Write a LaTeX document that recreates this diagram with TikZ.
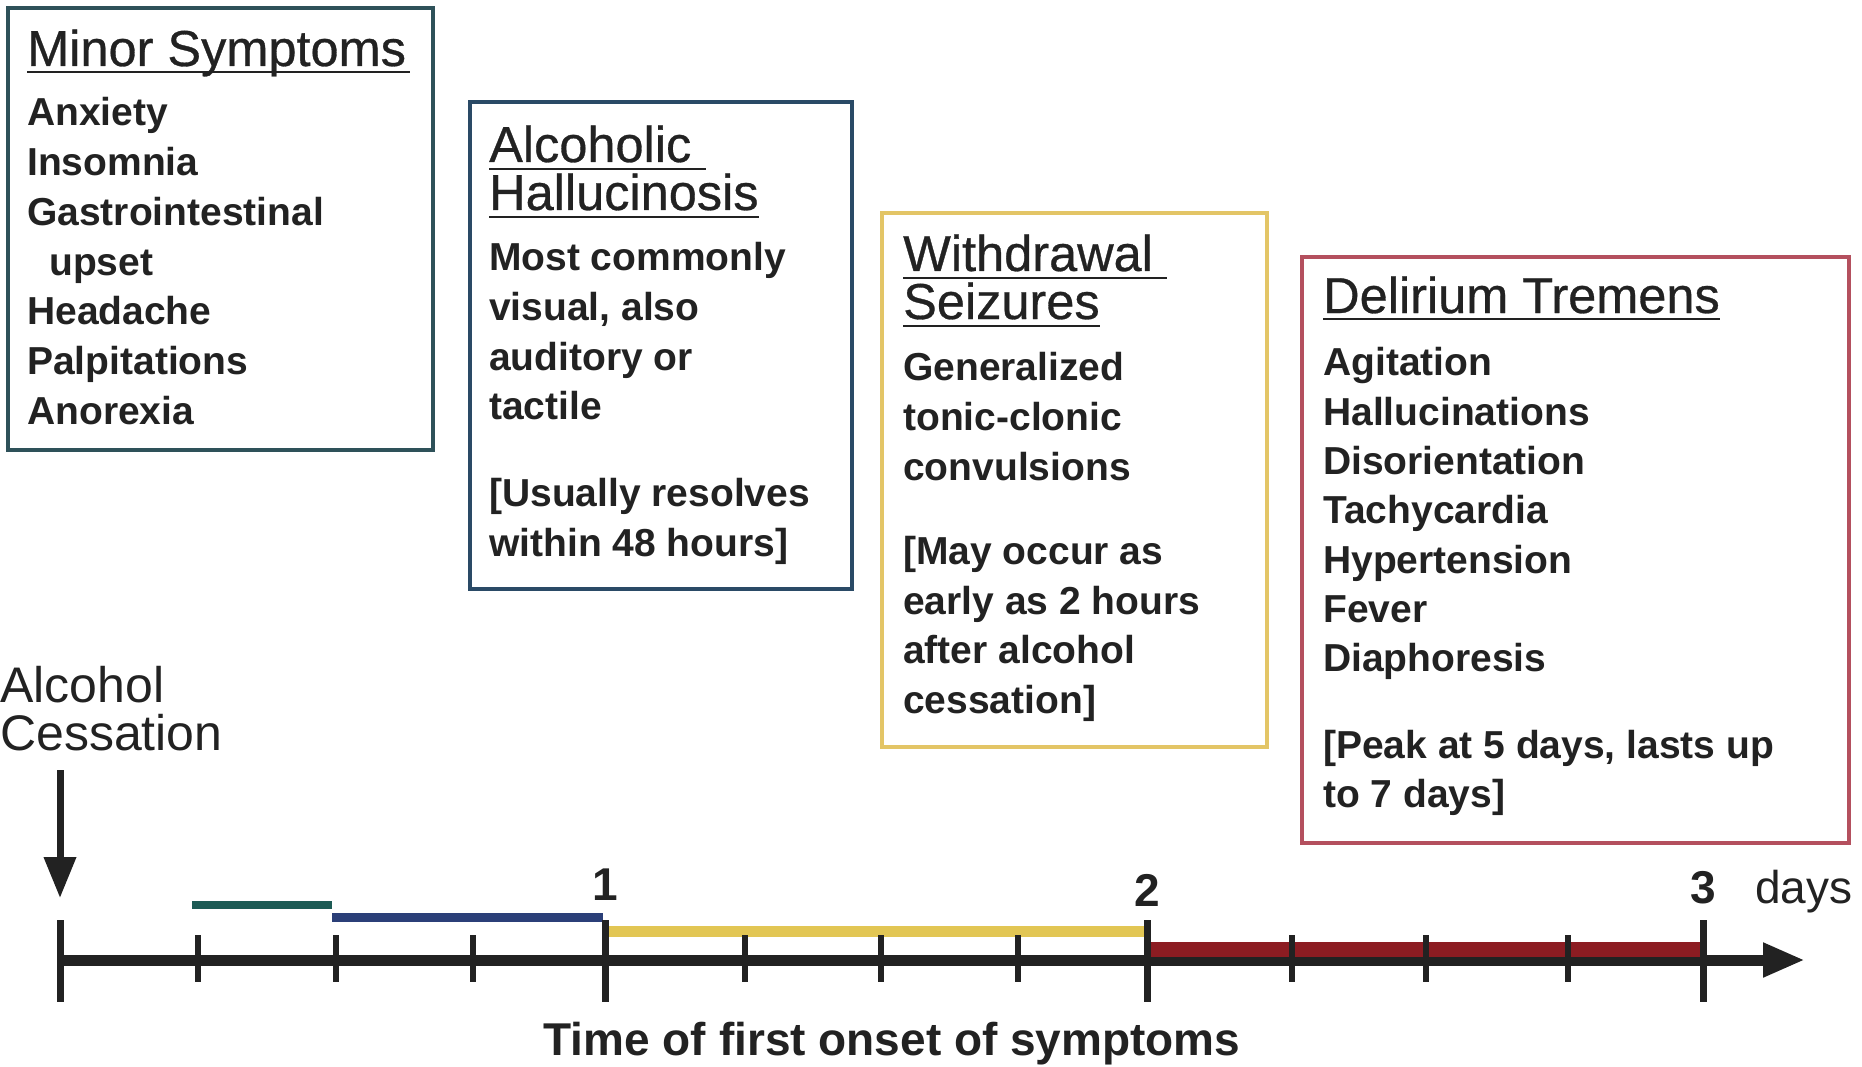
\documentclass[tikz,border=0pt]{standalone}
\usepackage{fontspec}
\setmainfont{Liberation Sans}
\newfontfamily\medfont[FakeBold=0.6]{Liberation Sans}
\usetikzlibrary{arrows.meta}
\definecolor{ink}{HTML}{222222}
\definecolor{bxA}{HTML}{2E5159}
\definecolor{bxB}{HTML}{2A4A66}
\definecolor{bxC}{HTML}{E3C566}
\definecolor{bxD}{HTML}{B4505E}
\definecolor{barA}{HTML}{1D5B55}
\definecolor{barB}{HTML}{2B3F78}
\definecolor{barC}{HTML}{E2C654}
\definecolor{barD}{HTML}{8C1C22}
\tikzset{
  frame/.style={draw, line width=4pt, inner sep=0pt, anchor=north west},
  ttl/.style={anchor=base west, inner sep=0pt, text=ink, font=\medfont\fontsize{50.5}{50}\selectfont},
  bod/.style={anchor=base west, inner sep=0pt, text=ink, font=\fontsize{39}{39}\selectfont\bfseries},
  uline/.style={draw=ink, line width=2.5pt},
  majortick/.style={draw=ink, line width=7pt},
  minortick/.style={draw=ink, line width=6pt},
  axisline/.style={draw=ink, line width=11pt},
  numlbl/.style={anchor=base, inner sep=0pt, text=ink, font=\fontsize{46}{46}\selectfont\bfseries},
  bigtxt/.style={anchor=base west, inner sep=0pt, text=ink, font=\fontsize{50}{50}\selectfont},
}
\begin{document}
\begin{tikzpicture}[x=1pt,y=-1pt]
\useasboundingbox (0,0) rectangle (1862,1067);

% ---- Box 1: Minor Symptoms
\node[frame, draw=bxA, minimum width=425pt, minimum height=442pt] (box1) at (6,6) {};
\node[ttl] (t1) at (27,66) {Minor Symptoms};
\draw[uline] ([yshift=-6pt]t1.base west) -- ([yshift=-6pt,xshift=4pt]t1.base east);
\foreach \t [count=\i from 0] in {Anxiety,Insomnia,Gastrointestinal,\hspace{22pt}upset,Headache,Palpitations,Anorexia}
  \node[bod] (m\i) at (27,126+49.7*\i) {\t};

% ---- Box 2: Alcoholic Hallucinosis
\node[frame, draw=bxB, minimum width=382pt, minimum height=487pt] (box2) at (468,100) {};
\node[ttl] (t2a) at (489,162) {Alcoholic};
\node[ttl] (t2b) at (489,210) {Hallucinosis};
\draw[uline] ([yshift=-7pt]t2a.base west) -- ([yshift=-7pt,xshift=14pt]t2a.base east);
\draw[uline] ([yshift=-7pt]t2b.base west) -- ([yshift=-7pt]t2b.base east);
\foreach \t/\y [count=\i] in {Most commonly/271,{visual, also}/320,auditory or/370,tactile/419,[Usually resolves/506,within 48 hours]/556}
  \node[bod] (h\i) at (489,\y) {\t};

% ---- Box 3: Withdrawal Seizures
\node[frame, draw=bxC, minimum width=385pt, minimum height=534pt] (box3) at (880,211) {};
\node[ttl] (t3a) at (903,271) {Withdrawal};
\node[ttl] (t3b) at (903,319) {Seizures};
\draw[uline] ([yshift=-7pt]t3a.base west) -- ([yshift=-7pt,xshift=14pt]t3a.base east);
\draw[uline] ([yshift=-7pt]t3b.base west) -- ([yshift=-7pt]t3b.base east);
\foreach \t/\y [count=\i] in {Generalized/380,tonic-clonic/430,convulsions/480,[May occur as/564,early as 2 hours/614,after alcohol/663,cessation]/713}
  \node[bod] (w\i) at (903,\y) {\t};

% ---- Box 4: Delirium Tremens
\node[frame, draw=bxD, minimum width=547pt, minimum height=586pt] (box4) at (1300,255) {};
\node[ttl] (t4) at (1323,313) {Delirium Tremens};
\draw[uline] ([yshift=-6pt]t4.base west) -- ([yshift=-6pt]t4.base east);
\foreach \t/\y [count=\i] in {Agitation/375,Hallucinations/425,Disorientation/474,Tachycardia/523,Hypertension/573,Fever/622,Diaphoresis/671,{[Peak at 5 days, lasts up}/758,to 7 days]/807}
  \node[bod] (d\i) at (1323,\y) {\t};

% ---- Alcohol cessation
\node[bigtxt] (alc) at (0,702) {Alcohol};
\node[bigtxt] (ces) at (0,750) {Cessation};
\coordinate (cs) at (60,770);
\coordinate (ce) at (60,898);
\draw[draw=ink, line width=7pt, -{Triangle[length=41pt,width=31pt]}] (cs) -- (ce);

% ---- Timeline
\coordinate (t0) at (60,960);
\coordinate (axend) at (1805,960);
\draw[axisline, -{Triangle[length=42pt,width=32pt]}] (t0) -- (axend);

% colored onset bars
\draw[draw=barA, line width=8pt] (192,905) -- (332,905);
\draw[draw=barB, line width=9pt] (332,917) -- (603,917);
\draw[draw=barC, line width=11pt] (606,931) -- (1145,931);
\draw[draw=barD, line width=15pt] (1148,949) -- (1703,949);

% ticks
\foreach \x in {198,336,473,745,881,1018,1292,1426,1568}
  \draw[minortick] (\x,935) -- (\x,982);
\foreach \x in {60,605,1147,1703}
  \draw[majortick] (\x,920) -- (\x,1002);

% labels
\node[numlbl] (n1) at (605,900) {1};
\node[numlbl] (n2) at (1147,906) {2};
\node[numlbl] (n3) at (1703,903) {3};
\node[anchor=base west, inner sep=0pt, text=ink, font=\fontsize{46}{46}\selectfont] (days) at (1755,903) {days};
\node[anchor=base, inner sep=0pt, text=ink, font=\fontsize{46}{46}\selectfont\bfseries] (xlab) at (892,1055) {Time of first onset of symptoms};
\end{tikzpicture}
\end{document}
